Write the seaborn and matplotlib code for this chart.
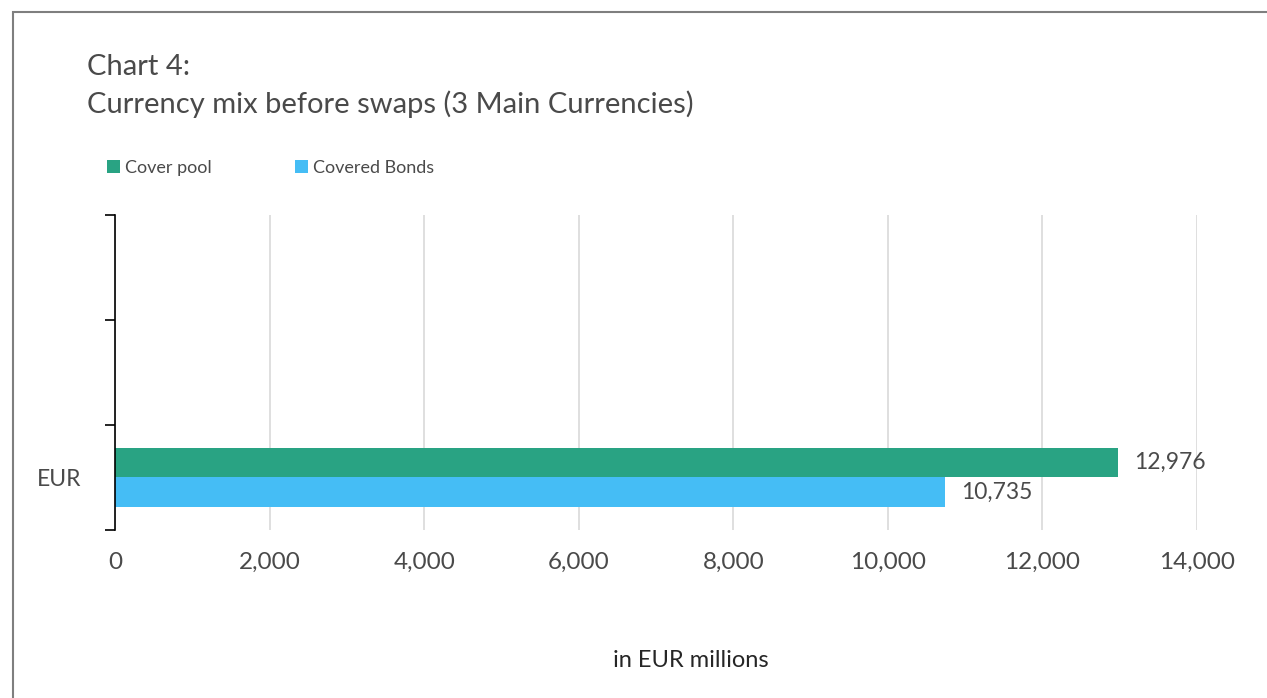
import pandas as pd
import seaborn as sns
import matplotlib.pyplot as plt
from matplotlib.patches import Patch, Rectangle
from matplotlib.ticker import FuncFormatter

# chart data
slots = ["", " ", "EUR"]          # three currency slots, only EUR filled
currencies = ["EUR"]
cover_pool = [12976]
covered_bonds = [10735]
series_names = ["Cover pool", "Covered Bonds"]
series_colors = ["#29A383", "#45BDF5"]
x_ticks = [0, 2000, 4000, 6000, 8000, 10000, 12000, 14000]

df = pd.DataFrame({
    "currency": currencies * 2,
    "series": [series_names[0]] * len(currencies) + [series_names[1]] * len(currencies),
    "value": cover_pool + covered_bonds,
})

sns.set_theme(style="white")
plt.rcParams['font.family'] = ['Lato', 'DejaVu Sans']
TXT = "#4A4A4A"

fig = plt.figure(figsize=(12.67, 6.98), dpi=100)
ax = fig.add_axes([0.0908, 0.2407, 0.854, 0.4513])

sns.barplot(data=df, y="currency", x="value", hue="series", order=slots,
            hue_order=series_names, palette=series_colors, width=0.57,
            orient="h", saturation=1, linewidth=0, ax=ax)
ax.get_legend().remove()

# value labels
for cont in ax.containers:
    ax.bar_label(cont, labels=[f"{v:,.0f}" for v in cont.datavalues],
                 padding=12, fontsize=16.5, color=TXT)

# x axis
ax.set_xlim(0, 14000)
ax.set_xticks(x_ticks)
ax.xaxis.set_major_formatter(FuncFormatter(lambda v, p: f"{v:,.0f}"))
ax.tick_params(axis="x", length=0, pad=16, labelsize=17.5, labelcolor=TXT)
ax.grid(axis="x", color="#D9D9D9", linewidth=1.2)
ax.set_axisbelow(True)
ax.set_xlabel("in EUR millions", fontsize=17, color="#262626")
ax.xaxis.set_label_coords(0.532, -0.382)

# y axis: ticks on category boundaries, labels at centers
ax.set_ylim(2.5, -0.5)
ax.set_yticks([-0.5, 0.5, 1.5, 2.5])
ax.set_yticklabels([])
ax.set_yticks([0, 1, 2], minor=True)
ax.set_yticklabels(slots, minor=True)
ax.tick_params(axis="y", which="major", length=7, width=1.2, color="black", left=True)
ax.tick_params(axis="y", which="minor", length=0, pad=24, labelsize=16.5, labelcolor=TXT)
ax.set_ylabel("")

for s in ["top", "right", "bottom"]:
    ax.spines[s].set_visible(False)
ax.spines["left"].set_color("black")
ax.spines["left"].set_linewidth(1.2)

# title
fig.text(0.0687, 1 - 75 / 698, "Chart 4:", fontsize=21, color=TXT, va="baseline")
fig.text(0.0687, 1 - 113 / 698, "Currency mix before swaps (3 Main Currencies)",
         fontsize=21, color=TXT, va="baseline")

# legend
handles = [Patch(facecolor=c, edgecolor="none", label=n) for n, c in zip(series_names, series_colors)]
fig.legend(handles=handles, loc="center left", bbox_to_anchor=(0.0845, 1 - 168 / 698),
           ncol=2, frameon=False, fontsize=13, labelcolor=TXT,
           handlelength=0.7, handleheight=0.7, handletextpad=0.3, columnspacing=4.6,
           borderaxespad=0, borderpad=0)

# outer frame (cut off at right and bottom)
fig.patches.append(Rectangle((13 / 1267, -0.2), 2, 1.2 - 12 / 698, transform=fig.transFigure,
                             fill=False, edgecolor="#7F7F7F", linewidth=1.5))

fig.savefig("out.png", dpi=100)
